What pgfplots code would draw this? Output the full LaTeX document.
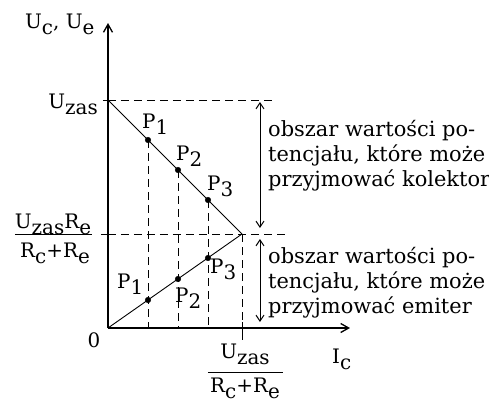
\documentclass[border=0pt]{standalone}
\usepackage{pgfplots}
\pgfplotsset{compat=1.18}
\usetikzlibrary{arrows.meta}
\usepackage{fontspec}
\setmainfont{DejaVu Serif}
% lowered subscript set in the text font
\newcommand\sub[1]{\raisebox{-6bp}{#1}}
\begin{document}
\fontsize{20}{25}\selectfont
\begin{tikzpicture}[font=\fontsize{20}{25}\selectfont,
  lbl/.style={anchor=base west, inner sep=0pt},
  desc/.style={anchor=base west, inner sep=0pt, font=\fontsize{21}{25}\selectfont},
  spanarrow/.style={black, line width=1pt, {Straight Barb[length=6bp,width=8bp]}-{Straight Barb[length=6bp,width=8bp]}},
  guide/.style={black, line width=0.9pt, dash pattern=on 8bp off 5bp}]
\useasboundingbox (-108bp,-75bp) rectangle (381bp,328bp);
\begin{axis}[
  anchor=origin, x=1bp, y=1bp,
  xmin=0, xmax=242, ymin=0, ymax=305,
  axis lines=left,
  axis line style={line width=1.3pt, -{Straight Barb[length=8bp,width=9bp]}},
  xtick=\empty, ytick=\empty,
  clip=false,
]
% load lines of collector and emitter
\addplot[black, line width=0.9pt] coordinates {(0,228) (134,94)};
\addplot[black, line width=0.9pt] coordinates {(0,0) (134,94)};
% guide lines
\addplot[guide] coordinates {(0,228) (165,228)};
\addplot[guide] coordinates {(0,94) (182,94)};
\addplot[guide] coordinates {(40,188) (40,0)};
\addplot[guide] coordinates {(70,158) (70,0)};
\addplot[guide] coordinates {(100,128) (100,0)};
\addplot[guide] coordinates {(134,94) (134,0)};
% tick marks
\draw[line width=1pt] (axis cs:-5,228) -- (axis cs:5,228);
\draw[line width=1pt] (axis cs:-7,94) -- (axis cs:7,94);
\draw[line width=1pt] (axis cs:134,6) -- (axis cs:134,-12);
% operating points
\addplot[only marks, mark=*, mark size=2.8bp, black] coordinates {(40,188) (70,158) (100,128) (40,28) (70,49) (100,70)};
% potential ranges
\addplot[spanarrow] coordinates {(152,226) (152,100)};
\addplot[spanarrow] coordinates {(152,89) (152,6)};
% point labels
\node[lbl] at (axis cs:34,200) {P\sub{1}};
\node[lbl] at (axis cs:68,168) {P\sub{2}};
\node[lbl] at (axis cs:99,138) {P\sub{3}};
\node[lbl] at (axis cs:9,40) {P\sub{1}};
\node[lbl] at (axis cs:67,26) {P\sub{2}};
\node[lbl] at (axis cs:102,55) {P\sub{3}};
% axis labels
\node[lbl] at (axis cs:-83,300) {U\sub{c}, U\sub{e}};
\node[lbl] at (axis cs:224,-35) {I\sub{c}};
\node[anchor=base east, inner sep=0pt] at (axis cs:-10,220) {U\sub{zas}};
\node[anchor=center, inner sep=0pt] at (axis cs:-14,-12) {0};
% fraction at the middle level
\node[anchor=base, inner sep=0pt] at (axis cs:-55,100) {U\sub{zas}R\sub{e}};
\draw[line width=1pt] (axis cs:-93,94) -- (axis cs:-16,94);
\node[anchor=base, inner sep=0pt] at (axis cs:-53,71) {R\sub{c}+R\sub{e}};
% fraction under the current axis
\node[anchor=base, inner sep=0pt] at (axis cs:137,-30) {U\sub{zas}};
\draw[line width=1pt] (axis cs:100,-44) -- (axis cs:175,-44);
\node[anchor=base, inner sep=0pt] at (axis cs:137,-64) {R\sub{c}+R\sub{e}};
% range descriptions
\node[desc] at (axis cs:160,192) {obszar wartości po-};
\node[desc] at (axis cs:160,167) {tencjału, które może};
\node[desc] at (axis cs:160,142) {przyjmować kolektor};
\node[desc] at (axis cs:160,65) {obszar wartości po-};
\node[desc] at (axis cs:160,40) {tencjału, które może};
\node[desc] at (axis cs:160,15) {przyjmować emiter};
\end{axis}
\end{tikzpicture}
\end{document}
